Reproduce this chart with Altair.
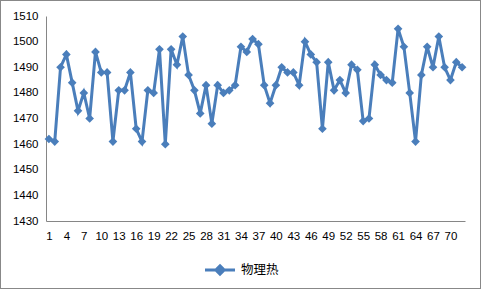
import altair as alt
import pandas as pd

values = [1462, 1461, 1490, 1495, 1484, 1473, 1480, 1470, 1496, 1488,
          1488, 1461, 1481, 1481, 1488, 1466, 1461, 1481, 1480, 1497,
          1460, 1497, 1491, 1502, 1487, 1481, 1472, 1483, 1468, 1483,
          1480, 1481, 1483, 1498, 1496, 1501, 1499, 1483, 1476, 1483,
          1490, 1488, 1488, 1483, 1500, 1495, 1492, 1466, 1492, 1481,
          1485, 1480, 1491, 1489, 1469, 1470, 1491, 1487, 1485, 1484,
          1505, 1498, 1480, 1461, 1487, 1498, 1490, 1502, 1490, 1485,
          1492, 1490]
index = list(range(1, len(values) + 1))
series_name = "物理热"
x_ticks = list(range(1, 71, 3))
y_ticks = list(range(1430, 1511, 10))

df = pd.DataFrame({"i": index, "v": values, "s": series_name})

blue = "#4A7EBB"
font = "Liberation Sans"

legend_path = "M-2,0L2,0M0,-0.55L0.55,0L0,0.55L-0.55,0Z"

base = alt.Chart(df).encode(
    x=alt.X("i:Q",
            scale=alt.Scale(domain=[0.5, 72.5], nice=False, zero=False),
            axis=alt.Axis(values=x_ticks, title=None, grid=False, tickSize=0,
                          labelPadding=9, labelFont=font, labelFontSize=11.5,
                          labelColor="#000000", domainColor="#868686",
                          labelFlush=False, labelOverlap=False, format="d")),
    y=alt.Y("v:Q",
            scale=alt.Scale(domain=[1430, 1510], nice=False, zero=False),
            axis=alt.Axis(values=y_ticks, title=None, grid=False, tickSize=0,
                          labelPadding=8, labelFont=font, labelFontSize=11.5,
                          labelColor="#000000", domainColor="#868686",
                          format="d")),
    color=alt.Color("s:N", scale=alt.Scale(range=[blue]),
                    legend=alt.Legend(title=None, orient="none",
                                      legendX=165, legendY=245,
                                      symbolType=legend_path, symbolSize=225,
                                      symbolStrokeWidth=3,
                                      symbolFillColor=blue,
                                      symbolStrokeColor=blue,
                                      labelFont="Noto Sans CJK SC",
                                      labelFontSize=12.5, labelColor="#000000",
                                      labelOffset=12)),
)

line = base.mark_line(strokeWidth=3)
pts = base.mark_point(shape="diamond", filled=True, size=75, opacity=1)

border = alt.Chart(df).mark_rect(fill=None, stroke="#888888", strokeWidth=1).encode(
    x=alt.value(-45.5), x2=alt.value(434.5), y=alt.value(-15.5), y2=alt.value(272.5)
)

chart = alt.layer(border, line, pts).properties(
    width=419, height=205,
    autosize=alt.AutoSizeParams(type="none"),
    padding={"left": 46, "top": 16, "right": 16, "bottom": 68},
).configure_view(stroke=None)

chart.save("out.html", embed_options={"renderer": "svg", "actions": False})
